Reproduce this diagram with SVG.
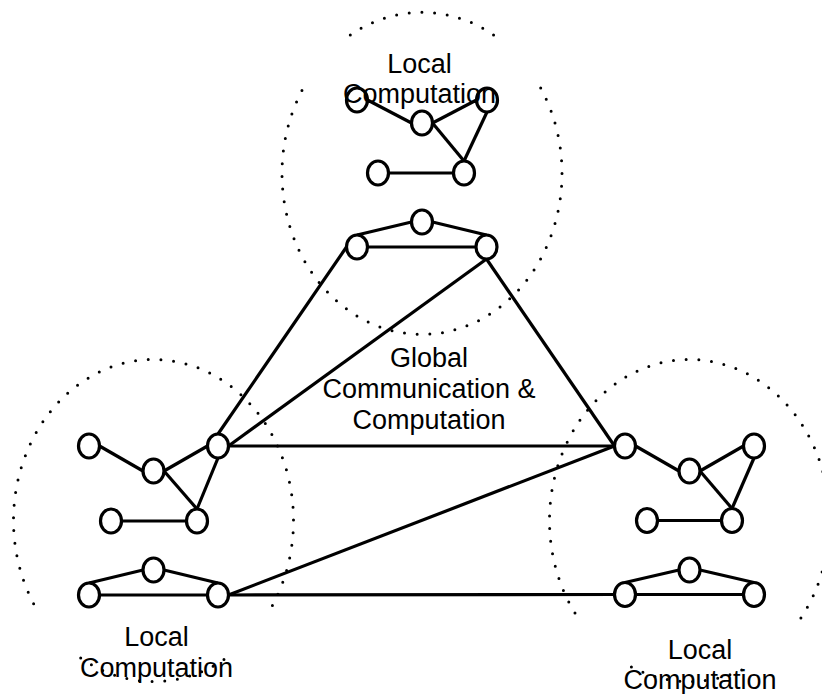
<svg xmlns="http://www.w3.org/2000/svg" width="822" height="694" viewBox="0 0 822 694">
<style>
.bg{fill:#fff}
.zone{fill:none;stroke:#000;stroke-width:3;stroke-linecap:round;stroke-dasharray:0 12.7}
.edge{fill:none;stroke:#000;stroke-width:3.2}
.node ellipse{fill:#fff;stroke:#000;stroke-width:3.2}
.lbl{font-family:"Liberation Sans",Arial,sans-serif;font-size:27px;fill:#000;text-anchor:middle}
</style>
<rect class="bg" x="0" y="0" width="822" height="694"/>
<g id="zones">
<path class="zone" d="M350.3,35 A140,161 0 0 1 493.7,35"/>
<path class="zone" d="M540.7,88 A140,161 0 1 1 303.3,88"/>
<path class="zone" d="M272.4,605.5 A140,161 0 1 0 34.6,605.5"/>
<path class="zone" d="M80.7,658 A140,161 0 0 0 226.3,658"/>
<path class="zone" d="M800.9,618 A140,161 0 1 0 578.1,618"/>
<path class="zone" d="M631.4,667 A140,161 0 0 0 747.6,667"/>
</g>
<g id="connectors">
<!-- top cluster -->
<line class="edge" x1="367.5" y1="100" x2="411.5" y2="123"/>
<line class="edge" x1="432.5" y1="123" x2="476.5" y2="100"/>
<line class="edge" x1="432.5" y1="123" x2="464" y2="161"/>
<line class="edge" x1="487" y1="112" x2="464" y2="161"/>
<line class="edge" x1="388.5" y1="173" x2="453.5" y2="173"/>
<line class="edge" x1="357" y1="235" x2="411.5" y2="222"/>
<line class="edge" x1="432.5" y1="222" x2="486.5" y2="235"/>
<line class="edge" x1="367.5" y1="247" x2="476" y2="247"/>
<!-- left cluster -->
<line class="edge" x1="99.5" y1="446" x2="143" y2="471"/>
<line class="edge" x1="164" y1="471" x2="207.5" y2="446"/>
<line class="edge" x1="164" y1="471" x2="197" y2="509"/>
<line class="edge" x1="218" y1="458" x2="197" y2="509"/>
<line class="edge" x1="121.5" y1="521" x2="186.5" y2="521"/>
<line class="edge" x1="89" y1="583" x2="143" y2="570"/>
<line class="edge" x1="164" y1="570" x2="218" y2="583"/>
<line class="edge" x1="99.5" y1="595" x2="207.5" y2="595"/>
<!-- right cluster -->
<line class="edge" x1="635.5" y1="446" x2="679" y2="471"/>
<line class="edge" x1="700" y1="471" x2="743.5" y2="446"/>
<line class="edge" x1="700" y1="471" x2="732" y2="508.5"/>
<line class="edge" x1="754" y1="458" x2="732" y2="508.5"/>
<line class="edge" x1="657.5" y1="520.5" x2="721.5" y2="520.5"/>
<line class="edge" x1="625" y1="582.5" x2="679" y2="570"/>
<line class="edge" x1="700" y1="570" x2="754" y2="582.5"/>
<line class="edge" x1="635.5" y1="594.5" x2="743.5" y2="594.5"/>
<!-- global links -->
<line class="edge" x1="346.5" y1="247" x2="218" y2="434"/>
<line class="edge" x1="486.5" y1="259" x2="228.5" y2="446"/>
<line class="edge" x1="486.5" y1="259" x2="614.5" y2="446"/>
<line class="edge" x1="228.5" y1="446" x2="614.5" y2="446"/>
<line class="edge" x1="228.5" y1="595" x2="614.5" y2="446"/>
<line class="edge" x1="228.5" y1="595" x2="614.5" y2="594.5"/>
</g>
<g id="t1" class="node"><ellipse cx="357" cy="100" rx="10.5" ry="12"/></g>
<g id="t2" class="node"><ellipse cx="422" cy="123" rx="10.5" ry="12"/></g>
<g id="t3" class="node"><ellipse cx="487" cy="100" rx="10.5" ry="12"/></g>
<g id="t4" class="node"><ellipse cx="464" cy="173" rx="10.5" ry="12"/></g>
<g id="t5" class="node"><ellipse cx="378" cy="173" rx="10.5" ry="12"/></g>
<g id="t6" class="node"><ellipse cx="422" cy="222" rx="10.5" ry="12"/></g>
<g id="t7" class="node"><ellipse cx="357" cy="247" rx="10.5" ry="12"/></g>
<g id="t8" class="node"><ellipse cx="486.5" cy="247" rx="10.5" ry="12"/></g>
<g id="l1" class="node"><ellipse cx="89" cy="446" rx="10.5" ry="12"/></g>
<g id="l2" class="node"><ellipse cx="153.5" cy="471" rx="10.5" ry="12"/></g>
<g id="l3" class="node"><ellipse cx="218" cy="446" rx="10.5" ry="12"/></g>
<g id="l4" class="node"><ellipse cx="197" cy="521" rx="10.5" ry="12"/></g>
<g id="l5" class="node"><ellipse cx="111" cy="521" rx="10.5" ry="12"/></g>
<g id="l6" class="node"><ellipse cx="153.5" cy="570" rx="10.5" ry="12"/></g>
<g id="l7" class="node"><ellipse cx="89" cy="595" rx="10.5" ry="12"/></g>
<g id="l8" class="node"><ellipse cx="218" cy="595" rx="10.5" ry="12"/></g>
<g id="r1" class="node"><ellipse cx="625" cy="446" rx="10.5" ry="12"/></g>
<g id="r2" class="node"><ellipse cx="689.5" cy="471" rx="10.5" ry="12"/></g>
<g id="r3" class="node"><ellipse cx="754" cy="446" rx="10.5" ry="12"/></g>
<g id="r4" class="node"><ellipse cx="732" cy="520.5" rx="10.5" ry="12"/></g>
<g id="r5" class="node"><ellipse cx="647" cy="520.5" rx="10.5" ry="12"/></g>
<g id="r6" class="node"><ellipse cx="689.5" cy="570" rx="10.5" ry="12"/></g>
<g id="r7" class="node"><ellipse cx="625" cy="594.5" rx="10.5" ry="12"/></g>
<g id="r8" class="node"><ellipse cx="754" cy="594.5" rx="10.5" ry="12"/></g>
<g id="label-top"><text class="lbl" x="419.5" y="73">Local</text><text class="lbl" x="419.5" y="103">Computation</text></g>
<g id="label-global"><text class="lbl" x="429" y="367">Global</text><text class="lbl" x="429" y="398">Communication &amp;</text><text class="lbl" x="429" y="428.5">Computation</text></g>
<g id="label-left"><text class="lbl" x="156.5" y="646">Local</text><text class="lbl" x="156.5" y="676.5">Computation</text></g>
<g id="label-right"><text class="lbl" x="700" y="658.5">Local</text><text class="lbl" x="700" y="689">Computation</text></g>
</svg>
